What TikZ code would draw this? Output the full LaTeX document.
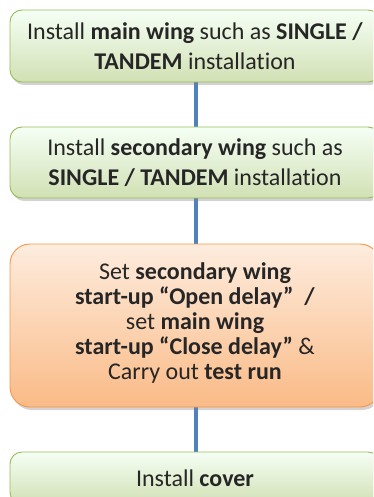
\documentclass[tikz,border=0pt]{standalone}
\usepackage{fontspec}
\setmainfont[Ligatures=NoCommon]{Carlito}
\usetikzlibrary{shadows}
\definecolor{stepgreen}{HTML}{9BBB59}
\definecolor{steporange}{HTML}{F79646}
\definecolor{linkblue}{HTML}{4F81BD}
\definecolor{txtgray}{HTML}{262626}
\tikzset{
	greenbox/.style={draw=stepgreen,line width=0.9pt,rounded corners=12pt,
		top color=green!4!white,bottom color=stepgreen!45!white,
		minimum width=370pt,align=center,text=txtgray,
		font=\fontsize{24}{30}\selectfont,
		drop shadow={opacity=0.35,shadow xshift=2pt,shadow yshift=-3pt}},
	orangebox/.style={draw=steporange,line width=0.9pt,rounded corners=20pt,
		top color=steporange!18!white,bottom color=steporange!65!white,
		minimum width=370pt,align=center,text=txtgray,
		font=\fontsize{24}{25}\selectfont,
		drop shadow={opacity=0.35,shadow xshift=2pt,shadow yshift=-3pt}},
	link/.style={draw=linkblue,line width=4pt}
}
\begin{document}
\begin{tikzpicture}[x=1pt,y=1pt]
	\clip (0,0) rectangle (373,-497);
	\useasboundingbox (0,0) rectangle (373,-497);

	% Draw the connectors first
	\coordinate (c1) at (196,-82);
	\coordinate (c2) at (196,-127);
	\coordinate (c3) at (196,-198);
	\coordinate (c4) at (196,-244);
	\coordinate (c5) at (196,-407);
	\coordinate (c6) at (196,-452);
	\draw[link] (c1) -- (c2);
	\draw[link] (c3) -- (c4);
	\draw[link] (c5) -- (c6);

	% Draw the steps
	\node[greenbox,minimum height=72pt] (mainwing) at (195,-46)
		{Install \textbf{main wing} such as \textbf{SINGLE /}\\\textbf{TANDEM} installation};
	\node[greenbox,minimum height=71pt] (secwing) at (195,-162.5)
		{Install \textbf{secondary wing} such as\\\textbf{SINGLE / TANDEM} installation};
	\node[orangebox,minimum height=163pt,text depth=8pt] (delay) at (195,-325.5)
		{Set \textbf{secondary wing}\\
		 \textbf{start-up “Open delay”~~/}\\
		 set \textbf{main wing}\\
		 \textbf{start-up “Close delay”} \&\\
		 Carry out \textbf{test run}};
	\node[greenbox,minimum height=52pt] (cover) at (195,-478)
		{Install \textbf{cover}};
\end{tikzpicture}
\end{document}
